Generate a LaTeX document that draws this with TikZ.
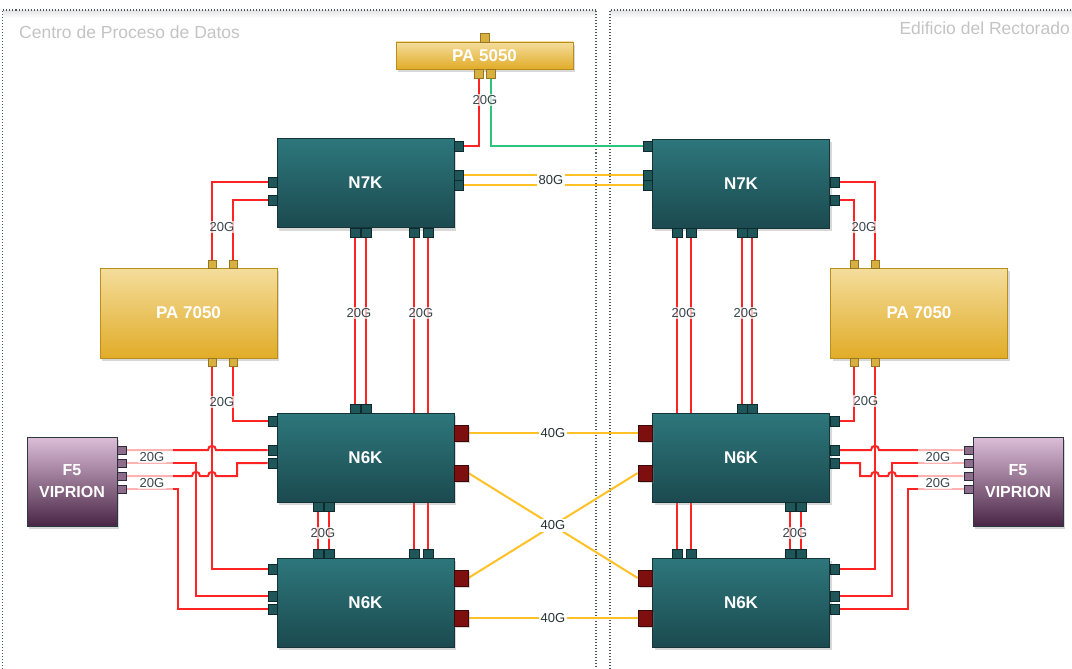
\documentclass[tikz,border=0pt]{standalone}
\usepackage{fontspec}
\setmainfont{Liberation Sans}
\usetikzlibrary{shadows}
\pgfdeclarelayer{bg}
\pgfsetlayers{bg,main}
\definecolor{tealt}{HTML}{2D777C}
\definecolor{tealbt}{HTML}{1B4A4F}
\definecolor{tealbd}{HTML}{153538}
\definecolor{tealpt}{HTML}{1F5659}
\definecolor{tealpb}{HTML}{0E2A2C}
\definecolor{redpt}{HTML}{7D0F0F}
\definecolor{redpb}{HTML}{3A0A0A}
\definecolor{goldt}{HTML}{F4DD9C}
\definecolor{goldb}{HTML}{E1AC28}
\definecolor{goldbd}{HTML}{B88F1E}
\definecolor{goldp}{HTML}{D8B040}
\definecolor{goldpb}{HTML}{967620}
\definecolor{purt}{HTML}{DCBED9}
\definecolor{purb}{HTML}{4A2646}
\definecolor{purbd}{HTML}{2C3A40}
\definecolor{purp}{HTML}{8E6C8C}
\definecolor{purpb}{HTML}{2C2C3A}
\definecolor{linered}{HTML}{FF2424}
\definecolor{lineyel}{HTML}{FFC125}
\definecolor{linegrn}{HTML}{2EC27A}
\definecolor{labc}{HTML}{38474D}
\definecolor{zonec}{HTML}{4A5A60}
\definecolor{zonet}{HTML}{C4C4C4}
\begin{document}
\begin{tikzpicture}[x=1pt,y=-1pt,
  dev/.style={draw=tealbd, line width=0.8pt, top color=tealt, bottom color=tealbt,
    minimum width=177pt, minimum height=89pt, inner sep=0pt, text=white,
    font=\fontsize{17}{17}\selectfont\bfseries,
    drop shadow={shadow xshift=2pt, shadow yshift=-3pt, opacity=0.3}},
  pabox/.style={draw=goldbd, line width=0.8pt, top color=goldt, bottom color=goldb,
    minimum width=177pt, minimum height=90pt, inner sep=0pt, text=white,
    font=\fontsize{17}{17}\selectfont\bfseries,
    drop shadow={shadow xshift=2pt, shadow yshift=-3pt, opacity=0.3}},
  f5box/.style={draw=purbd, line width=0.8pt, top color=purt, bottom color=purb,
    minimum width=90pt, minimum height=89pt, inner sep=0pt, text=white, align=center,
    font=\fontsize{16}{22}\selectfont\bfseries,
    drop shadow={shadow xshift=2pt, shadow yshift=-3pt, opacity=0.3}},
  tport/.style={draw=tealpb, fill=tealpt, line width=0.6pt, minimum width=9pt, minimum height=10pt, inner sep=0pt},
  bport/.style={draw=tealpb, fill=tealpt, line width=0.6pt, minimum width=10pt, minimum height=9pt, inner sep=0pt},
  rport/.style={draw=redpb, fill=redpt, line width=0.6pt, minimum width=14pt, minimum height=16pt, inner sep=0pt,
    drop shadow={shadow xshift=1.5pt, shadow yshift=-1.5pt, opacity=0.3}},
  gport/.style={draw=goldpb, fill=goldp, line width=0.6pt, minimum width=8pt, minimum height=8pt, inner sep=0pt},
  fport/.style={draw=purpb, fill=purp, line width=0.6pt, minimum width=9pt, minimum height=8pt, inner sep=0pt},
  redl/.style={draw=linered, line width=2pt},
  yell/.style={draw=lineyel, line width=2pt},
  grnl/.style={draw=linegrn, line width=2pt},
  lbl/.style={fill=white, fill opacity=0.7, text opacity=1, text=labc, inner sep=1.5pt,
    font=\fontsize{13}{13}\selectfont},
  lblw/.style={fill=white, text=labc!70!black, inner sep=1.5pt, font=\fontsize{13}{13}\selectfont},
  zonelbl/.style={text=zonet, inner sep=0pt, font=\fontsize{17.5}{17.5}\selectfont},
  zoneline/.style={draw=zonec, line width=1.3pt, dash pattern=on 1pt off 2pt}
]
\useasboundingbox (0,0) rectangle (1072,669);
\begin{pgfonlayer}{bg}
\fill[white] (0,0) rectangle (1072,669);
\shade[top color=black!10, bottom color=white] (3,10.5) rectangle (596,18);
\shade[top color=black!10, bottom color=white] (610,10.5) rectangle (1072,18);
\draw[zoneline] (2.5,669) -- (2.5,10) -- (596,10) -- (596,669);
\draw[zoneline] (610,669) -- (610,10) -- (1072,10);
\end{pgfonlayer}

\node[zonelbl, anchor=west] (zl) at (19,32) {Centro de Proceso de Datos};
\node[zonelbl, anchor=east] (zr) at (1070,28) {Edificio del Rectorado};

% PA 5050
\node[pabox, minimum height=27pt] (pa5) at (484.5,55.5) {PA 5050};
\node[gport, minimum width=9pt, minimum height=9pt] (pa5t) at (485,37.5) {};
\node[gport, minimum width=9pt, minimum height=9pt] (pa5b1) at (479,73.5) {};
\node[gport, minimum width=9pt, minimum height=9pt] (pa5b2) at (491,73.5) {};

% Left N7K
\node[dev] (n7l) at (365.5,183) {N7K};
\node[tport] (n7lr1) at (458.5,146) {};
\node[tport] (n7lr2) at (458.5,175) {};
\node[tport] (n7lr3) at (458.5,185) {};
\node[tport] (n7ll1) at (272.5,182) {};
\node[tport] (n7ll2) at (272.5,200) {};
\node[bport] (n7lb1) at (355,232.5) {};
\node[bport] (n7lb2) at (366,232.5) {};
\node[bport] (n7lb3) at (414,232.5) {};
\node[bport] (n7lb4) at (428,232.5) {};

% Left PA 7050
\node[pabox] (pa7l) at (188.5,313) {PA 7050};
\node[gport] (pa7lt1) at (212,264.5) {};
\node[gport] (pa7lt2) at (233,264.5) {};
\node[gport] (pa7lb1) at (212,362) {};
\node[gport] (pa7lb2) at (233,362) {};

% Left N6K top
\node[dev] (n6lt) at (365.5,457.5) {N6K};
\node[bport] (n6ltt1) at (355,408.5) {};
\node[bport] (n6ltt2) at (366,408.5) {};
\node[tport] (n6ltl1) at (272.5,421) {};
\node[tport] (n6ltl2) at (272.5,450) {};
\node[tport] (n6ltl3) at (272.5,463) {};
\node[rport] (n6ltr1) at (461,433) {};
\node[rport] (n6ltr2) at (461,473) {};
\node[bport] (n6ltb1) at (318,506.5) {};
\node[bport] (n6ltb2) at (329,506.5) {};

% Left N6K bottom
\node[dev] (n6lb) at (365.5,602.5) {N6K};
\node[bport] (n6lbt1) at (318,553.5) {};
\node[bport] (n6lbt2) at (329,553.5) {};
\node[bport] (n6lbt3) at (414,553.5) {};
\node[bport] (n6lbt4) at (428,553.5) {};
\node[tport] (n6lbl1) at (272.5,569) {};
\node[tport] (n6lbl2) at (272.5,596) {};
\node[tport] (n6lbl3) at (272.5,609) {};
\node[rport] (n6lbr1) at (461,578) {};
\node[rport] (n6lbr2) at (461,618) {};

% Left F5
\node[f5box] (f5l) at (72,481.5) {F5\\VIPRION};
\node[fport] (f5lp1) at (121.5,450) {};
\node[fport] (f5lp2) at (121.5,463) {};
\node[fport] (f5lp3) at (121.5,476) {};
\node[fport] (f5lp4) at (121.5,489) {};

% Right N7K
\node[dev] (n7r) at (741,183.5) {N7K};
\node[tport] (n7rl1) at (648,146) {};
\node[tport] (n7rl2) at (648,175) {};
\node[tport] (n7rl3) at (648,185) {};
\node[tport] (n7rr1) at (834.5,182) {};
\node[tport] (n7rr2) at (834.5,200) {};
\node[bport] (n7rb1) at (677,232.5) {};
\node[bport] (n7rb2) at (691,232.5) {};
\node[bport] (n7rb3) at (742,232.5) {};
\node[bport] (n7rb4) at (752,232.5) {};

% Right PA 7050
\node[pabox] (pa7r) at (919,313) {PA 7050};
\node[gport] (pa7rt1) at (854,264.5) {};
\node[gport] (pa7rt2) at (875,264.5) {};
\node[gport] (pa7rb1) at (854,362) {};
\node[gport] (pa7rb2) at (875,362) {};

% Right N6K top
\node[dev] (n6rt) at (741,457.5) {N6K};
\node[bport] (n6rtt1) at (742,408.5) {};
\node[bport] (n6rtt2) at (752,408.5) {};
\node[tport] (n6rtr1) at (834.5,421) {};
\node[tport] (n6rtr2) at (834.5,450) {};
\node[tport] (n6rtr3) at (834.5,463) {};
\node[rport] (n6rtl1) at (645,433) {};
\node[rport] (n6rtl2) at (645,473) {};
\node[bport] (n6rtb1) at (790,506.5) {};
\node[bport] (n6rtb2) at (801,506.5) {};

% Right N6K bottom
\node[dev] (n6rb) at (741,602.5) {N6K};
\node[bport] (n6rbt1) at (677,553.5) {};
\node[bport] (n6rbt2) at (691,553.5) {};
\node[bport] (n6rbt3) at (790,553.5) {};
\node[bport] (n6rbt4) at (801,553.5) {};
\node[tport] (n6rbr1) at (834.5,569) {};
\node[tport] (n6rbr2) at (834.5,596) {};
\node[tport] (n6rbr3) at (834.5,609) {};
\node[rport] (n6rbl1) at (645,578) {};
\node[rport] (n6rbl2) at (645,618) {};

% Right F5
\node[f5box] (f5r) at (1018,481.5) {F5\\VIPRION};
\node[fport] (f5rp1) at (968.5,450) {};
\node[fport] (f5rp2) at (968.5,463) {};
\node[fport] (f5rp3) at (968.5,476) {};
\node[fport] (f5rp4) at (968.5,489) {};

\begin{pgfonlayer}{bg}
% top
\draw[redl] (pa5b1.south) |- (n7lr1.east);
\draw[grnl] (pa5b2.south) |- (n7rl1.west);
\draw[yell] (n7lr2.east) -- (n7rl2.west);
\draw[yell] (n7lr3.east) -- (n7rl3.west);
% left
\draw[redl] (n7ll1.west) -| (pa7lt1.north);
\draw[redl] (n7ll2.west) -| (pa7lt2.north);
\draw[redl] (n7lb1.south) -- (n6ltt1.north);
\draw[redl] (n7lb2.south) -- (n6ltt2.north);
\draw[redl] (n7lb3.south) -- (n6lbt3.north);
\draw[redl] (n7lb4.south) -- (n6lbt4.north);
\draw[redl] (n6ltb1.south) -- (n6lbt1.north);
\draw[redl] (n6ltb2.south) -- (n6lbt2.north);
\draw[redl] (pa7lb2.south) |- (n6ltl1.west);
\draw[redl] (pa7lb1.south) |- (n6lbl1.west);
\draw[redl] (f5lp1.east) -- (208,450) .. controls (208,444.5) and (216,444.5) .. (216,450) -- (n6ltl2.west);
\draw[redl] (f5lp2.east) -- (196,463) |- (n6lbl2.west);
\draw[redl] (f5lp3.east) -- (192,476) .. controls (192,470.5) and (200,470.5) .. (200,476)
  -- (208,476) .. controls (208,470.5) and (216,470.5) .. (216,476) -- (237,476) |- (n6ltl3.west);
\draw[redl] (f5lp4.east) -- (178,489) |- (n6lbl3.west);
% right
\draw[redl] (n7rr1.east) -| (pa7rt2.north);
\draw[redl] (n7rr2.east) -| (pa7rt1.north);
\draw[redl] (n7rb1.south) -- (n6rbt1.north);
\draw[redl] (n7rb2.south) -- (n6rbt2.north);
\draw[redl] (n7rb3.south) -- (n6rtt1.north);
\draw[redl] (n7rb4.south) -- (n6rtt2.north);
\draw[redl] (n6rtb1.south) -- (n6rbt3.north);
\draw[redl] (n6rtb2.south) -- (n6rbt4.north);
\draw[redl] (pa7rb1.south) |- (n6rtr1.east);
\draw[redl] (pa7rb2.south) |- (n6rbr1.east);
\draw[redl] (f5rp1.west) -- (879,450) .. controls (879,444.5) and (871,444.5) .. (871,450) -- (n6rtr2.east);
\draw[redl] (f5rp2.west) -- (892,463) |- (n6rbr2.east);
\draw[redl] (f5rp3.west) -- (896,476) .. controls (896,470.5) and (888,470.5) .. (888,476)
  -- (879,476) .. controls (879,470.5) and (871,470.5) .. (871,476) -- (860,476) |- (n6rtr3.east);
\draw[redl] (f5rp4.west) -- (908,489) |- (n6rbr3.east);
% 40G
\draw[yell] (n6ltr1.east) -- (n6rtl1.west);
\draw[yell] (n6ltr2.east) -- (n6rbl1.west);
\draw[yell] (n6lbr1.east) -- (n6rtl2.west);
\draw[yell] (n6lbr2.east) -- (n6rbl2.west);
\end{pgfonlayer}

% fades near F5
\fill[white, opacity=0.65] (126.5,444) rectangle (173,495);
\fill[white, opacity=0.65] (918,444) rectangle (964,495);

% labels
\node[lbl] (l1) at (485,100) {20G};
\node[lblw] (l2) at (551,180) {80G};
\node[lbl] (l3) at (222,227) {20G};
\node[lbl] (l4) at (359,313) {20G};
\node[lbl] (l5) at (421,313) {20G};
\node[lbl] (l6) at (222,402) {20G};
\node[lbl] (l7) at (323,533) {20G};
\node[lbl] (l8) at (152,457) {20G};
\node[lbl] (l9) at (152,483) {20G};
\node[lbl] (r3) at (864,227) {20G};
\node[lbl] (r4) at (684,313) {20G};
\node[lbl] (r5) at (746,313) {20G};
\node[lbl] (r6) at (866,401) {20G};
\node[lbl] (r7) at (795,533) {20G};
\node[lbl] (r8) at (938,457) {20G};
\node[lbl] (r9) at (938,483) {20G};
\node[lblw] (g1) at (553,433) {40G};
\node[lblw] (g2) at (553,525.5) {40G};
\node[lblw] (g3) at (553,618) {40G};
\end{tikzpicture}
\end{document}
